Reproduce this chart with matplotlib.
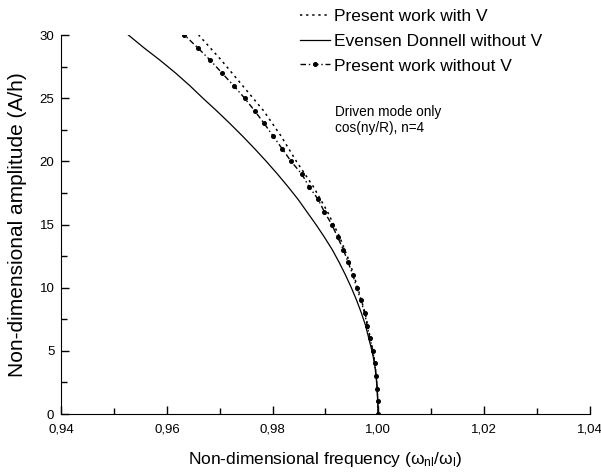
import numpy as np
import matplotlib.pyplot as plt
from matplotlib.ticker import MultipleLocator, FuncFormatter

# amplitude A/h
amp_with_v = [0, 2, 4, 6, 8, 10, 12, 14, 16, 18, 20, 22, 24, 26, 28, 30]
freq_with_v = [1.0000, 0.9998, 0.9994, 0.9985, 0.9975, 0.9961, 0.9946, 0.9927,
               0.9904, 0.9877, 0.9845, 0.9816, 0.9783, 0.9743, 0.9703, 0.9660]

amp_evensen = list(range(0, 31))
freq_evensen = [1.0000, 0.9999, 0.9998, 0.9996, 0.9993, 0.9988, 0.9982, 0.9976,
                0.9968, 0.9959, 0.9949, 0.9938, 0.9926, 0.9913, 0.9898, 0.9882,
                0.9865, 0.9848, 0.9829, 0.9809, 0.9788, 0.9766, 0.9743, 0.9719,
                0.9694, 0.9668, 0.9643, 0.9616, 0.9587, 0.9556, 0.9527]

amp_without_v = list(range(0, 31))
freq_without_v = [1.0000, 0.9999, 0.9998, 0.9996, 0.9993, 0.9990, 0.9984, 0.9979,
                  0.9974, 0.9967, 0.9959, 0.9952, 0.9943, 0.9934, 0.9923, 0.9912,
                  0.9898, 0.9886, 0.9869, 0.9855, 0.9835, 0.9818, 0.9801, 0.9784,
                  0.9766, 0.9747, 0.9726, 0.9704, 0.9682, 0.9658, 0.9633]

plt.rcParams['font.family'] = ['Liberation Sans', 'DejaVu Sans']

fig = plt.figure(figsize=(6.01, 4.73), dpi=100)
ax = fig.add_axes([0.102, 0.1247, 0.879, 0.8013])

ax.plot(freq_with_v, amp_with_v, linestyle=(0, (1.5, 2.5)), color='black', lw=1.1,
        label='Present work with V')
ax.plot(freq_evensen, amp_evensen, '-', color='black', lw=0.9,
        label='Evensen Donnell without V')
ax.plot(freq_without_v, amp_without_v, linestyle=(0, (4, 2, 1, 2)), color='black', lw=1.0,
        marker='o', markersize=2.6, label='Present work without V')

ax.set_xlim(0.94, 1.04)
ax.set_ylim(0, 30)
ax.xaxis.set_major_locator(MultipleLocator(0.02))
ax.xaxis.set_minor_locator(MultipleLocator(0.01))
ax.yaxis.set_major_locator(MultipleLocator(5))
ax.yaxis.set_minor_locator(MultipleLocator(2.5))
ax.xaxis.set_major_formatter(FuncFormatter(lambda v, p: f'{v:.2f}'.replace('.', ',')))
ax.yaxis.set_major_formatter(FuncFormatter(lambda v, p: f'{v:.0f}'))

ax.spines['top'].set_visible(False)
ax.spines['right'].set_visible(False)
ax.tick_params(which='both', direction='in', labelsize=9.5, width=1)
ax.tick_params(which='major', length=6)
ax.tick_params(axis='x', which='major', pad=7)
ax.tick_params(axis='y', which='major', pad=5)
ax.tick_params(which='minor', length=4)

ax.set_xlabel(r'Non-dimensional frequency ($\mathregular{\omega_{nl}/\omega_l}$)',
              fontsize=12.5, labelpad=10)
ax.set_ylabel('Non-dimensional amplitude (A/h)', fontsize=15, labelpad=9)

ax.legend(loc='upper left', bbox_to_anchor=(300 / 601, 1 - 9 / 473),
          bbox_transform=fig.transFigure, frameon=False, fontsize=12.5,
          handlelength=1.75, handletextpad=0.2, labelspacing=0.55, borderpad=0,
          borderaxespad=0)

fig.text(335 / 601, 1 - 120 / 473, 'Driven mode only\ncos(ny/R), n=4',
         fontsize=9.8, va='center', ha='left', linespacing=1.25)

fig.savefig('out.png', dpi=100)
